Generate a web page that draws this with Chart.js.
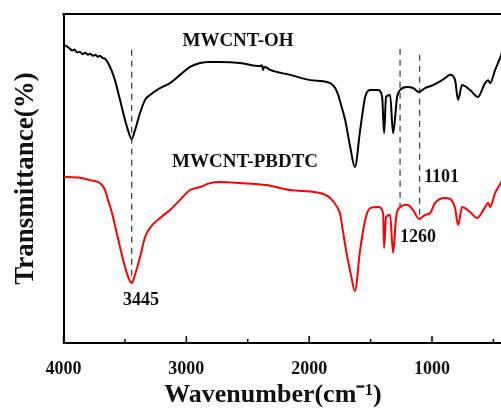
<!DOCTYPE html>
<html>
<head>
<meta charset="utf-8">
<script src="https://cdn.jsdelivr.net/npm/chart.js@4"></script>
<style>
  html, body { margin: 0; padding: 0; overflow: hidden; background: #fff; }
</style>
</head>
<body>
<canvas id="ftir" width="530" height="408"></canvas>
<script>
// FTIR spectra, wavenumber (cm-1) vs transmittance (arbitrary %)
const ohWn = [4000, 3970, 3947, 3930, 3910, 3890, 3866, 3845, 3825, 3800, 3784, 3760, 3740, 3720, 3703, 3680, 3662,
  3621, 3581, 3540, 3499, 3475, 3445, 3418, 3377, 3336, 3296, 3214, 3133, 3051, 2970, 2888, 2807, 2726, 2563,
  2400, 2385, 2375, 2365, 2318, 2155, 1992, 1829, 1788, 1764, 1740, 1707, 1666, 1628, 1585, 1544, 1504, 1439,
  1406, 1390, 1374, 1341, 1317, 1284, 1260, 1203, 1154, 1105, 1056, 991, 894, 853, 812, 788, 755, 690, 625,
  568, 543, 527, 486, 437, 400];
const ohT = [90.6, 90.1, 89.4, 88.9, 89.2, 88.3, 88.5, 87.8, 88.2, 87.6, 87.9, 87.3, 87.6, 87.0, 87.3, 86.6, 86.4,
  83.9, 79.9, 73.9, 67.8, 64.7, 62.0, 64.7, 69.9, 73.9, 75.4, 77.5, 79.0, 81.5, 83.9, 85.1, 85.4, 85.4, 85.1,
  84.2, 84.4, 83.0, 84.0, 83.0, 81.5, 79.9, 79.0, 77.5, 75.4, 72.3, 67.8, 59.6, 53.5, 64.7, 74.8, 76.9, 76.9,
  74.8, 63.8, 74.8, 75.4, 63.8, 74.8, 76.9, 77.8, 77.5, 76.3, 77.5, 78.4, 80.5, 81.5, 79.9, 73.9, 78.4, 76.9, 74.8,
  79.0, 79.9, 79.0, 83.0, 87.5, 91.5];

const pbWn = [4000, 3866, 3784, 3703, 3662, 3638, 3605, 3572, 3540, 3499, 3445, 3418, 3377, 3336, 3296, 3214,
  3133, 3051, 2970, 2888, 2807, 2726, 2563, 2351, 2155, 1911, 1829, 1772, 1748, 1724, 1691, 1658, 1628, 1585,
  1544, 1504, 1439, 1398, 1390, 1374, 1341, 1317, 1292, 1260, 1203, 1154, 1105, 1056, 1015, 975, 894, 853, 812,
  788, 755, 690, 633, 568, 543, 527, 486, 437, 400];
const pbT = [50.5, 50.2, 49.5, 48.6, 46.5, 43.5, 39.5, 34.3, 29.2, 23.1, 18.2, 20.7, 26.1, 32.2, 35.0, 38.0,
  40.4, 43.5, 46.5, 47.4, 48.6, 48.9, 48.6, 48.0, 46.5, 45.6, 44.1, 41.3, 39.2, 33.7, 26.4, 20.4, 15.8, 28.3,
  37.4, 41.0, 41.3, 39.5, 28.9, 38.3, 38.9, 27.4, 38.3, 41.3, 42.0, 40.4, 37.7, 38.9, 39.5, 42.6, 44.1, 43.8, 41.0,
  35.9, 41.3, 39.8, 38.0, 41.3, 42.6, 41.3, 45.6, 48.9, 52.6];

// dashed guide lines
const markWn = [3445, 1260, 1101];
const markTop = [89.1, 89.4, 87.6];
const markBottom = [18.2, 41.3, 38.9];

// text annotations
const noteText = ["MWCNT-OH", "MWCNT-PBDTC", "3445", "1260", "1101"];
const noteWn = [2579, 2522, 3369, 1113, 922];
const noteT = [91.8, 55.0, 13.1, 32.2, 50.2];

const xTicks = [4000, 3000, 2000, 1000];
const xMinor = [3500, 2500, 1500, 500];

const serif = "'Liberation Serif', 'Times New Roman', serif";

const toXY = (xs, ys) => xs.map((v, i) => ({ x: v, y: ys[i] }));

const datasets = [
  { label: "MWCNT-OH", data: toXY(ohWn, ohT), borderColor: "#000", borderWidth: 2, order: 1 },
  { label: "MWCNT-PBDTC", data: toXY(pbWn, pbT), borderColor: "#ff0000", borderWidth: 2, order: 2 },
];
markWn.forEach((w, i) => {
  datasets.push({
    data: [{ x: w, y: markTop[i] }, { x: w, y: markBottom[i] }],
    borderColor: "#444",
    borderWidth: 1.3,
    borderDash: [6, 5],
    cubicInterpolationMode: "default",
    order: 3,
  });
});

const overlay = {
  id: "overlay",
  afterDraw(chart) {
    const { ctx, chartArea: a, scales: { x, y } } = chart;
    ctx.save();
    ctx.strokeStyle = "#000";
    ctx.lineWidth = 2;
    ctx.beginPath();
    ctx.moveTo(a.left - 1, a.top);
    ctx.lineTo(a.right, a.top);
    ctx.stroke();
    // inward ticks
    ctx.lineWidth = 1.5;
    xTicks.forEach(v => {
      const px = x.getPixelForValue(v);
      ctx.beginPath(); ctx.moveTo(px, a.bottom); ctx.lineTo(px, a.bottom - 7); ctx.stroke();
    });
    xMinor.forEach(v => {
      const px = x.getPixelForValue(v);
      ctx.beginPath(); ctx.moveTo(px, a.bottom); ctx.lineTo(px, a.bottom - 4); ctx.stroke();
    });
    // notes
    ctx.fillStyle = "#111";
    ctx.textAlign = "center";
    ctx.textBaseline = "middle";
    noteText.forEach((t, i) => {
      ctx.font = (i < 2 ? "bold 19px " : "bold 18px ") + serif;
      ctx.fillText(t, x.getPixelForValue(noteWn[i]), y.getPixelForValue(noteT[i]));
    });
    // x title
    ctx.font = "bold 26px " + serif;
    ctx.fillText("Wavenumber(cm\u207B\u00B9)", 273, 395);
    ctx.restore();
  },
};

new Chart(document.getElementById("ftir"), {
  type: "line",
  data: { datasets },
  options: {
    responsive: false,
    animation: false,
    layout: { padding: { top: 14, right: 24.3, left: 0, bottom: 0 } },
    elements: { point: { radius: 0 }, line: { cubicInterpolationMode: "monotone" } },
    plugins: { legend: { display: false }, tooltip: { enabled: false } },
    scales: {
      x: {
        type: "linear",
        reverse: true,
        min: 400,
        max: 4000,
        afterBuildTicks: s => { s.ticks = xTicks.map(v => ({ value: v })); },
        afterFit: s => { s.height = 65; },
        grid: { display: false },
        border: { color: "#000", width: 2 },
        ticks: {
          padding: 8,
          color: "#111",
          callback: v => String(v),
          font: { family: serif, size: 18, weight: "bold" },
        },
      },
      y: {
        min: 0,
        max: 100,
        afterFit: s => { s.width = 63.5; },
        grid: { display: false },
        border: { color: "#000", width: 2 },
        ticks: { display: false },
        title: {
          display: true,
          text: "Transmittance(%)",
          color: "#111",
          padding: { top: 10, bottom: 0 },
          font: { family: serif, size: 27, weight: "bold" },
        },
      },
    },
  },
  plugins: [overlay],
});
</script>
</body>
</html>
